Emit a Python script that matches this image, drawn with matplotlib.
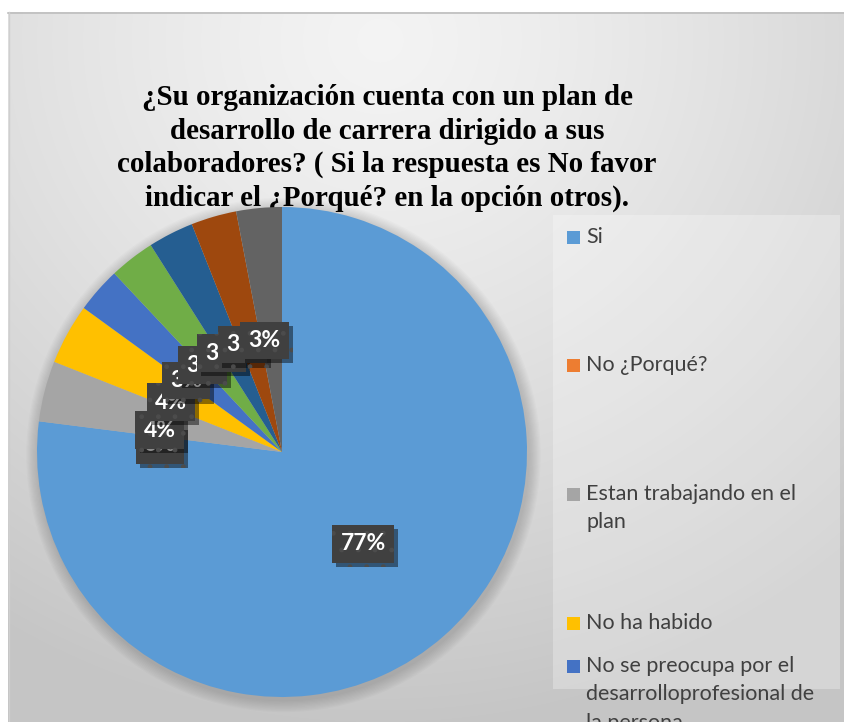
import numpy as np
import matplotlib
matplotlib.use("Agg")
import matplotlib.pyplot as plt
from matplotlib.patches import Rectangle, Circle
import matplotlib.patheffects as pe

# ---- data -------------------------------------------------------------
categories = [
    "Si",
    "No ¿Porqué?",
    "Estan trabajando en el\nplan",
    "No ha habido",
    "No se preocupa por el\ndesarrolloprofesional de\nla persona",
    "Otros 1",
    "Otros 2",
    "Otros 3",
    "Otros 4",
]
values = [77, 0, 4, 4, 3, 3, 3, 3, 3]
colors = ["#5B9BD5", "#ED7D31", "#A5A5A5", "#FFC000", "#4472C4",
          "#70AD47", "#255E91", "#9E480E", "#636363"]
title_lines = [
    "¿Su organización cuenta con un plan de",
    "desarrollo de carrera dirigido a sus",
    "colaboradores? ( Si la respuesta es No favor",
    "indicar el ¿Porqué? en la opción otros).",
]
legend_shown = 5  # entries that fit inside the chart area

W, H = 844, 722
fig = plt.figure(figsize=(W / 100, H / 100), dpi=100)
fig.patch.set_facecolor("white")

# ---- background panel with radial gradient ---------------------------
bg = fig.add_axes([0, 0, 1, 1])
bg.set_xlim(0, W)
bg.set_ylim(H, 0)
bg.axis("off")
yy, xx = np.mgrid[0:H, 0:W]
r = np.hypot(xx - 380, (yy - 40) * 1.05)
t = np.clip(r / 720.0, 0, 1) ** 1.3
light, dark = 0.955, 0.775
grad = light + (dark - light) * t
img = np.dstack([grad, grad, grad])
panel_left, panel_top = 8, 12
bg.imshow(img[panel_top:, panel_left:], extent=(panel_left, W, H, panel_top),
          aspect="auto", zorder=0, interpolation="bilinear")
bg.plot([panel_left, W], [panel_top + 0.5, panel_top + 0.5], color="#bdbdbd", lw=1.2, zorder=1)
bg.plot([panel_left + 0.5, panel_left + 0.5], [panel_top, H], color="#cfcfcf", lw=1.0, zorder=1)

# legend backdrop
bg.add_patch(Rectangle((553, 215), 287, 474, facecolor="white", alpha=0.28,
                       edgecolor="none", zorder=1))

# ---- title ------------------------------------------------------------
title_fp = dict(family="Liberation Serif", weight="bold", size=20.9, color="black")
baselines = [105, 139, 172, 206]
for line, yb in zip(title_lines, baselines):
    bg.text(387, yb, line, ha="center", va="baseline", zorder=2, **title_fp)

# ---- pie --------------------------------------------------------------
cx, cy, R = 282, 452, 245
pie_ax = fig.add_axes([(cx - R) / W, (H - cy - R) / H, 2 * R / W, 2 * R / H])
pie_ax.patch.set_alpha(0)

wedges, _ = pie_ax.pie(values, colors=colors, startangle=90, counterclock=False,
                       radius=1.0, wedgeprops=dict(edgecolor="none", linewidth=0),
                       normalize=True)
pie_ax.set_xlim(-1, 1)
pie_ax.set_ylim(-1, 1)
pie_ax.set_aspect("equal")
pie_ax.axis("off")
for w in wedges:
    w.set_zorder(2)

# soft shadow around the pie
for k in range(10):
    pie_ax.add_patch(Circle((0.006, -0.012), 1.0 + 0.005 * (k + 1), clip_on=False,
                            facecolor="black", alpha=0.016, edgecolor="none", zorder=0))

# ---- data labels ------------------------------------------------------
total = float(sum(values))
angle = 90.0
for i, v in enumerate(values):
    span = 360.0 * v / total
    mid = np.deg2rad(angle - span / 2)
    angle -= span
    rr = 0.5 if i == 0 else 0.49
    x, y = rr * np.cos(mid), rr * np.sin(mid)
    if i > 1:
        x -= 6 / R
        y -= 8 / R
    elif i == 1:
        x -= 3 / R
        y -= 8 / R
    txt = pie_ax.text(x, y, f"{v}%", ha="center", va="center",
                      family="Lato", weight="bold", size=16.5, color="white",
                      zorder=10 + i, clip_on=False,
                      bbox=dict(boxstyle="square,pad=0.36", facecolor="#404040",
                                edgecolor="#4c4c4c", linewidth=0, hatch="."))
    txt.get_bbox_patch().set_path_effects(
        [pe.SimplePatchShadow(offset=(3, -3), shadow_rgbFace="black", alpha=0.45),
         pe.Normal()])

# ---- legend -----------------------------------------------------------
legend_rows = [237, 365, 494, 623, 666]
line_gap = 28.5
for i in range(legend_shown):
    y0 = legend_rows[i]
    bg.add_patch(Rectangle((567, y0 - 6.5), 13, 13, facecolor=colors[i],
                           edgecolor="none", zorder=3))
    for j, part in enumerate(categories[i].split("\n")):
        bg.text(586, y0 + j * line_gap, part, ha="left", va="center",
                family="Lato", size=15.5, color="#404040", zorder=3)

fig.savefig("out.png", dpi=100)
